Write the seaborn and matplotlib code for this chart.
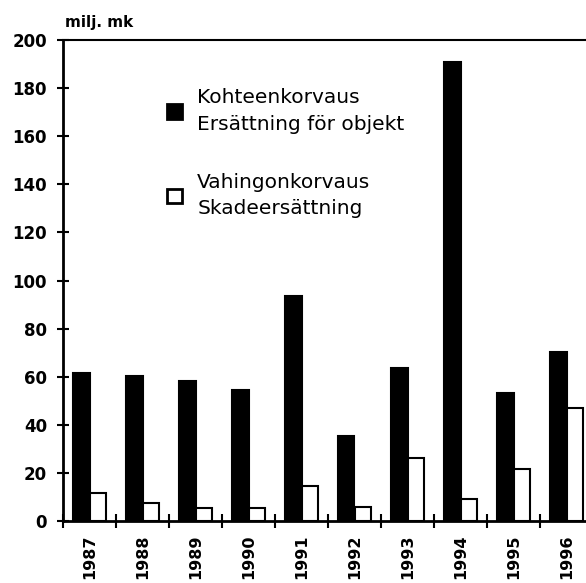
import matplotlib
matplotlib.use("Agg")
import matplotlib.pyplot as plt
import seaborn as sns
import pandas as pd
import numpy as np

years = ["1987", "1988", "1989", "1990", "1991", "1992", "1993", "1994", "1995", "1996"]
kohteen = [61.5, 60.3, 58.2, 54.5, 93.5, 35.3, 63.6, 191.0, 53.2, 70.3]
vahingon = [11.6, 7.5, 5.4, 5.4, 14.6, 5.8, 26.2, 9.1, 21.6, 47.0]
series_names = ["Kohteenkorvaus\nErsättning för objekt", "Vahingonkorvaus\nSkadeersättning"]
yticks = [0, 20, 40, 60, 80, 100, 120, 140, 160, 180, 200]

df = pd.DataFrame({
    "year": years * 2,
    "value": kohteen + vahingon,
    "series": [series_names[0]] * len(years) + [series_names[1]] * len(years),
})

sns.set_style("white")
plt.rcParams['font.family'] = ['DejaVu Sans']
plt.rcParams['text.color'] = 'black'
plt.rcParams['xtick.color'] = 'black'
plt.rcParams['ytick.color'] = 'black'
plt.rcParams['xtick.labelcolor'] = 'black'
plt.rcParams['ytick.labelcolor'] = 'black'

fig = plt.figure(figsize=(5.86, 5.83), dpi=100)
ax = fig.add_axes([63/586, 62/583, 530/586, 481/583])

sns.barplot(data=df, x="year", y="value", hue="series", order=years,
            hue_order=series_names, palette=["black", "white"],
            width=0.62, dodge=True, ax=ax, edgecolor="black",
            linewidth=1.5, saturation=1)

ax.set_xlim(-0.5, 9.5)
ax.set_ylim(0, 200)
ax.set_xlabel("")
ax.set_ylabel("")

for s in ["left", "bottom", "top", "right"]:
    ax.spines[s].set_visible(True)
    ax.spines[s].set_color("black")
ax.spines["left"].set_linewidth(2)
ax.spines["bottom"].set_linewidth(2)
ax.spines["top"].set_linewidth(1.5)
ax.spines["right"].set_linewidth(1.5)

ax.set_yticks(yticks)
ax.set_yticklabels([str(v) for v in yticks], fontsize=12, fontweight="bold", color="black")
ax.tick_params(axis="y", direction="inout", length=9, width=1.5, pad=7, left=True)

ax.set_xticks(range(len(years)))
ax.set_xticklabels(years, rotation=90, fontsize=11.5, fontweight="bold", color="black")
ax.tick_params(axis="x", which="major", length=0, pad=10)
ax.set_xticks(np.arange(-0.5, len(years), 1.0), minor=True)
ax.tick_params(axis="x", which="minor", direction="inout", length=10, width=1.5, bottom=True)

fig.text(65/586, 1 - 22/583, "milj. mk", fontsize=11, fontweight="bold",
         ha="left", va="center", color="black")

leg = ax.legend(loc="upper left", bbox_to_anchor=(149/586, 1 - 70/583),
                bbox_transform=fig.transFigure, frameon=False,
                fontsize=14.5, handlelength=0.75, handleheight=0.75,
                handletextpad=0.75, labelspacing=1.95)
for h in leg.legend_handles:
    h.set_linewidth(2)
for t in leg.get_texts():
    t.set_color("black")
    t.set_linespacing(1.5)

fig.savefig("out.png", dpi=100)
